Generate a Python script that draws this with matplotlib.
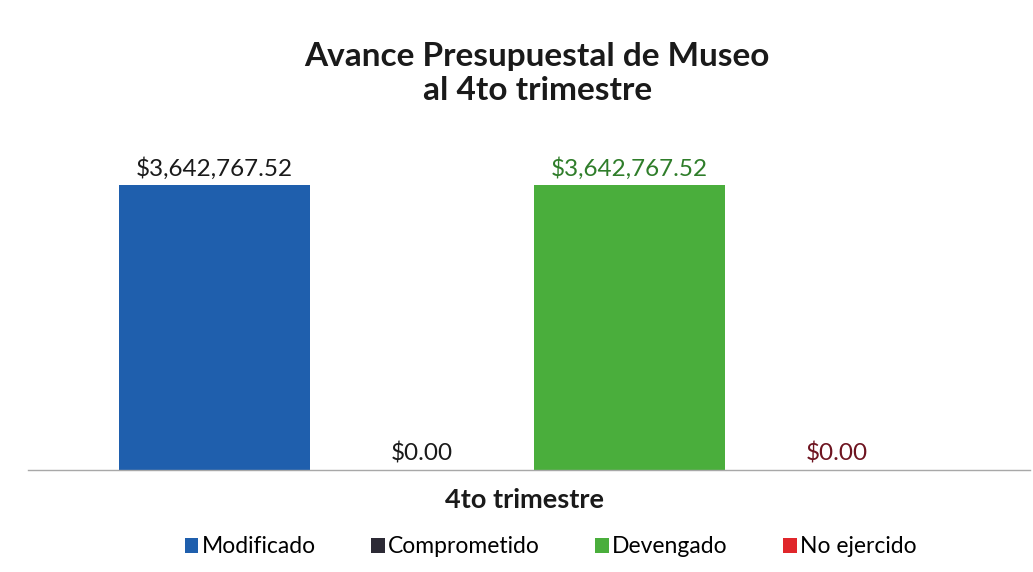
import matplotlib.pyplot as plt
import numpy as np

categories = ['Modificado', 'Comprometido', 'Devengado', 'No ejercido']
values = [3642767.52, 0.00, 3642767.52, 0.00]
bar_colors = ['#1f5fad', '#2c2a35', '#4aae3c', '#e0262b']
label_colors = ['#1a1a1a', '#1a1a1a', '#2f7d2a', '#6e1420']
group_label = '4to trimestre'

plt.rcParams['font.family'] = ['Lato', 'DejaVu Sans']

fig = plt.figure(figsize=(10.33, 5.72), dpi=100)
ax = fig.add_axes([0.027, 0.178, 0.97, 0.575])

x = np.arange(len(categories))
bars = ax.bar(x, values, width=0.92, color=bar_colors, label=categories)

for xi, v, c in zip(x, values, label_colors):
    ax.text(xi, v + 0.07e6, '${:,.2f}'.format(v), ha='center', va='bottom',
            fontsize=17.5, color=c)

ax.set_xlim(-0.9, 3.93)
ax.set_ylim(0, 4.2e6)
ax.set_yticks([])
ax.set_xticks([])
for s in ['top', 'right', 'left']:
    ax.spines[s].set_visible(False)
ax.spines['bottom'].set_color('#a8a8a8')
ax.spines['bottom'].set_linewidth(1.0)

fig.text(0.508, 0.125, group_label, ha='center', va='center',
         fontsize=19.5, fontweight='bold', color='#1a1a1a')
fig.text(0.52, 0.872, 'Avance Presupuestal de Museo\nal 4to trimestre', ha='center',
         va='center', fontsize=24, fontweight='bold', color='#1a1a1a', linespacing=1.2)

fig.legend(handles=bars, labels=categories, loc='center', bbox_to_anchor=(0.533, 0.044),
           ncol=4, frameon=False, fontsize=16.5, handlelength=0.6, handleheight=0.6,
           handletextpad=0.15, columnspacing=2.4)

fig.savefig('out.png', dpi=100)
